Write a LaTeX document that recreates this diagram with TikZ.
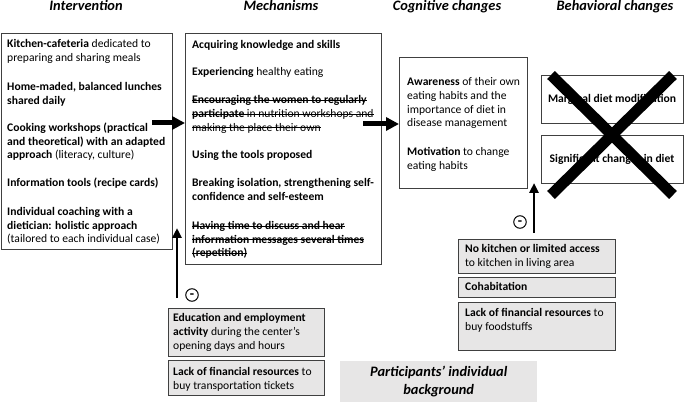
\documentclass[tikz,border=0pt]{standalone}
\usepackage{fontspec}
\setmainfont{Carlito}
\usetikzlibrary{arrows.meta}
\definecolor{bggray}{HTML}{E7E6E6}
\definecolor{edge}{HTML}{404040}
\newcommand{\strk}[1]{\setbox0\hbox{#1}\rlap{\copy0}\rule[3pt]{\wd0}{0.8pt}}
\begin{document}
\begin{tikzpicture}[x=1pt,y=-1pt,
  frame/.style={draw=edge, line width=0.8pt, fill=white, inner sep=0pt, anchor=north west},
  graybox/.style={draw=edge, line width=0.8pt, fill=bggray, inner sep=0pt, anchor=north west},
  txt/.style={anchor=north west, inner sep=0pt, align=left, font=\fontsize{11.6}{13.8}\selectfont},
  head/.style={anchor=base, inner sep=0pt, font=\fontsize{14.4}{16}\selectfont\bfseries\itshape},
  bigarrow/.style={line width=5pt, -{Triangle[length=13pt,width=13pt]}},
  thinarrow/.style={line width=2.6pt, -{Triangle[length=10pt,width=9pt]}},
  minus/.style={circle, draw=black, line width=1pt, inner sep=0pt, minimum size=12.5pt,
    text height=7.6pt, text depth=0pt, font=\fontsize{14}{14}\selectfont\bfseries},
  crossline/.style={line width=11pt, draw=black}
]
\useasboundingbox (0,0) rectangle (685,403);

% headings
\node[head] (h1) at (86,11) {Intervention};
\node[head] (h2) at (281,11) {Mechanisms};
\node[head] (h3) at (447,11) {Cognitive changes};
\node[head] (h4) at (615,11) {Behavioral changes};

% boxes
\node[frame, minimum width=171pt, minimum height=216pt] (interv) at (1,33) {};
\node[frame, minimum width=196pt, minimum height=231pt] (mech) at (185,33) {};
\node[frame, minimum width=128pt, minimum height=131pt] (cogn) at (399,57) {};
\node[frame, minimum width=142pt, minimum height=48pt] (beh1) at (541,75) {};
\node[frame, minimum width=142pt, minimum height=48pt] (beh2) at (541,135) {};

\node[graybox, minimum width=156pt, minimum height=48pt] (bl1) at (168,308) {};
\node[graybox, minimum width=156pt, minimum height=35pt] (bl2) at (168,360) {};
\node[graybox, minimum width=157pt, minimum height=34pt] (br1) at (458,239) {};
\node[graybox, minimum width=157pt, minimum height=20pt] (br2) at (458,277) {};
\node[graybox, minimum width=157pt, minimum height=48pt] (br3) at (458,302) {};

\node[fill=bggray, inner sep=0pt, anchor=north west, minimum width=197pt, minimum height=41pt,
      align=center, font=\fontsize{14.4}{18}\selectfont\bfseries\itshape] (bg) at (340,361)
  {Participants’ individual\\background};

% texts
\node[txt] (intervtxt) at (7,39.5) {%
\textbf{Kitchen-cafeteria} dedicated to\\
preparing and sharing meals\\[15pt]
\textbf{Home-maded, balanced lunches}\\
\textbf{shared daily}\\[13.2pt]
\textbf{Cooking workshops (practical}\\
\textbf{and theoretical) with an adapted}\\
\textbf{approach} (literacy, culture)\\[13.8pt]
\textbf{Information tools (recipe cards)}\\[15pt]
\textbf{Individual coaching with a}\\
\textbf{dietician: holistic approach}\\
(tailored to each individual case)};

\node[txt, font=\fontsize{11.6}{13.7}\selectfont] (mechtxt) at (192,40.5) {%
\textbf{Acquiring knowledge and skills}\\[13.3pt]
\textbf{Experiencing} healthy eating\\[14.3pt]
\strk{\textbf{Encouraging the women to regularly}}\\
\strk{\textbf{participate} in nutrition workshops and}\\
\strk{making the place their own}\\[13.9pt]
\textbf{Using the tools proposed}\\[14.3pt]
\textbf{Breaking isolation, strengthening self-}\\
\textbf{confidence and self-esteem}\\[15.3pt]
\strk{\textbf{Having time to discuss and hear}}\\
\strk{\textbf{information messages several times}}\\
\strk{\textbf{(repetition)}}};

\node[txt, font=\fontsize{11.6}{13.7}\selectfont] (cogntxt) at (407,77.5) {%
\textbf{Awareness} of their own\\
eating habits and the\\
importance of diet in\\
disease management\\[15.3pt]
\textbf{Motivation} to change\\
eating habits};

\node[font=\fontsize{11.6}{13}\selectfont\bfseries] (beh1txt) at (612,99) {Marginal diet modification};
\node[font=\fontsize{11.6}{13}\selectfont\bfseries] (beh2txt) at (612,159) {Significant changes in diet};

\node[txt, font=\fontsize{11.6}{14}\selectfont] (bl1txt) at (173,313.5) {%
\textbf{Education and employment}\\
\textbf{activity} during the center's\\
opening days and hours};
\node[txt, font=\fontsize{11.6}{14}\selectfont] (bl2txt) at (173,367.5) {%
\textbf{Lack of financial resources} to\\
buy transportation tickets};

\node[txt, font=\fontsize{11.6}{14}\selectfont] (br1txt) at (465,244.5) {%
\textbf{No kitchen or limited access}\\
to kitchen in living area};
\node[txt] (br2txt) at (465,282.5) {\textbf{Cohabitation}};
\node[txt, font=\fontsize{11.6}{14}\selectfont] (br3txt) at (465,308.5) {%
\textbf{Lack of financial resources} to\\
buy foodstuffs};

% cross
\coordinate (xa) at (551,75);
\coordinate (xb) at (673,195);
\coordinate (xc) at (673,75);
\coordinate (xd) at (551,195);
\draw[crossline] (xa) -- (xb);
\draw[crossline] (xc) -- (xd);

% arrows
\coordinate (a1s) at (152,123);
\draw[bigarrow] (a1s) -- (mech.west |- a1s);
\coordinate (a2s) at (363,124);
\draw[bigarrow] (a2s) -- (cogn.west |- a2s);

\coordinate (a3s) at (177,298);
\coordinate (a3e) at (177,228);
\draw[thinarrow] (a3s) -- (a3e);
\coordinate (a4s) at (534,233);
\coordinate (a4e) at (534,183);
\draw[thinarrow] (a4s) -- (a4e);

\node[minus] (m1) at (192,295) {-};
\node[minus] (m2) at (520,222) {-};
\end{tikzpicture}
\end{document}
